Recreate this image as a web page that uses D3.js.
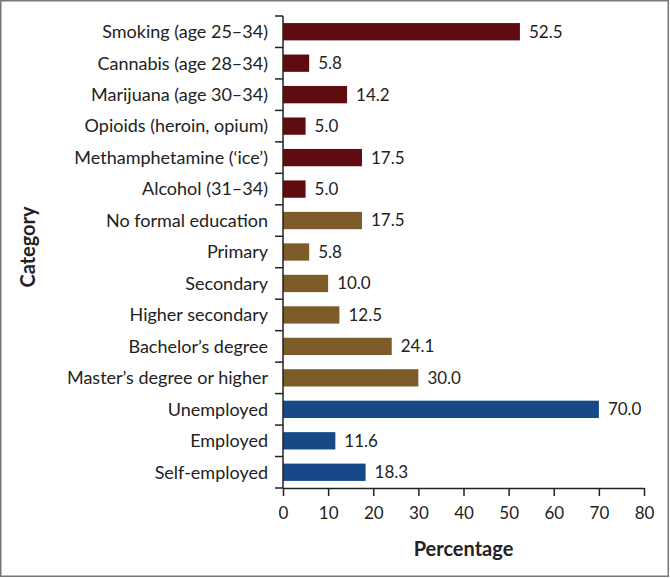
<!DOCTYPE html>
<html>
<head>
<meta charset="utf-8">
<script src="https://cdn.jsdelivr.net/npm/d3@7"></script>
<style>
  html, body { margin: 0; padding: 0; background: #fff; }
  svg { display: block; }
</style>
</head>
<body>
<div id="chart"></div>
<script>
// values
const categories = [
  'Smoking (age 25–34)',
  'Cannabis (age 28–34)',
  'Marijuana (age 30–34)',
  'Opioids (heroin, opium)',
  'Methamphetamine (‘ice’)',
  'Alcohol (31–34)',
  'No formal education',
  'Primary',
  'Secondary',
  'Higher secondary',
  'Bachelor’s degree',
  'Master’s degree or higher',
  'Unemployed',
  'Employed',
  'Self-employed'
];
const percentages = [52.5, 5.8, 14.2, 5.0, 17.5, 5.0, 17.5, 5.8, 10.0, 12.5, 24.1, 30.0, 70.0, 11.6, 18.3];
const groups = ['substance', 'substance', 'substance', 'substance', 'substance', 'substance',
  'education', 'education', 'education', 'education', 'education', 'education',
  'employment', 'employment', 'employment'];
const groupNames = ['substance', 'education', 'employment'];
const groupColors = ['#5e0c10', '#7d5c29', '#174887'];
const xTicks = [0, 10, 20, 30, 40, 50, 60, 70, 80];

const data = categories.map((c, i) => ({ cat: c, value: percentages[i], group: groups[i] }));

const W = 670, H = 578;
const margin = { top: 16, right: 26, bottom: 90, left: 283 };
const width = W - margin.left - margin.right;
const height = H - margin.top - margin.bottom;
const font = 'Lato, "Open Sans", sans-serif';
const ink = '#222';

const svg = d3.select('#chart').append('svg')
  .attr('width', W)
  .attr('height', H);

// outer frame
svg.append('rect')
  .attr('x', 0.75).attr('y', 0.75)
  .attr('width', W - 2.5).attr('height', H - 2.5)
  .attr('fill', 'none')
  .attr('stroke', '#777')
  .attr('stroke-width', 1.5);

const g = svg.append('g')
  .attr('transform', `translate(${margin.left},${margin.top})`);

const x = d3.scaleLinear().domain([0, 80]).range([0, width]);
const y = d3.scaleBand().domain(categories).range([0, height]).paddingInner(0.45).paddingOuter(0.225);
const color = d3.scaleOrdinal().domain(groupNames).range(groupColors);

// bars
g.append('g').selectAll('rect')
  .data(data)
  .enter().append('rect')
  .attr('x', 0)
  .attr('y', d => y(d.cat))
  .attr('width', d => x(d.value))
  .attr('height', y.bandwidth())
  .attr('fill', d => color(d.group));

// value labels
g.append('g').selectAll('text')
  .data(data)
  .enter().append('text')
  .attr('x', d => x(d.value) + 9)
  .attr('y', d => y(d.cat) + y.bandwidth() / 2)
  .attr('dy', '0.35em')
  .attr('font-family', font)
  .attr('font-size', 17)
  .attr('fill', ink)
  .text(d => d.value.toFixed(1));

// x axis
const xAxis = g.append('g')
  .attr('transform', `translate(0,${height})`)
  .call(d3.axisBottom(x).tickValues(xTicks).tickSize(8).tickPadding(11).tickSizeOuter(0));

// y axis: ticks sit on the category boundaries
const step = y.step();
const yAxis = g.append('g');
yAxis.append('line')
  .attr('x1', 0).attr('x2', 0)
  .attr('y1', 0).attr('y2', height)
  .attr('stroke', ink).attr('stroke-width', 1.5);
yAxis.selectAll('line.tick')
  .data(d3.range(categories.length + 1))
  .enter().append('line')
  .attr('class', 'tick')
  .attr('x1', -8).attr('x2', 0)
  .attr('y1', i => i * step).attr('y2', i => i * step)
  .attr('stroke', ink).attr('stroke-width', 1.5);
yAxis.selectAll('text')
  .data(categories)
  .enter().append('text')
  .attr('x', -15)
  .attr('y', d => y(d) + y.bandwidth() / 2)
  .attr('dy', '0.35em')
  .attr('text-anchor', 'end')
  .attr('font-family', font)
  .attr('font-size', 18)
  .attr('fill', ink)
  .text(d => d);

xAxis.select('.domain').attr('stroke', ink).attr('stroke-width', 1.5);
xAxis.selectAll('.tick line').attr('stroke', ink).attr('stroke-width', 1.5);
xAxis.selectAll('.tick text')
  .attr('font-family', font)
  .attr('font-size', 17)
  .attr('fill', ink);

// axis titles
svg.append('text')
  .attr('x', margin.left + width / 2)
  .attr('y', 556)
  .attr('text-anchor', 'middle')
  .attr('font-family', font)
  .attr('font-weight', 'bold')
  .attr('font-size', 20)
  .attr('fill', ink)
  .text('Percentage');

svg.append('text')
  .attr('transform', `translate(35,${margin.top + height / 2 - 5}) rotate(-90)`)
  .attr('text-anchor', 'middle')
  .attr('font-family', font)
  .attr('font-weight', 'bold')
  .attr('font-size', 20)
  .attr('fill', ink)
  .text('Category');
</script>
</body>
</html>
